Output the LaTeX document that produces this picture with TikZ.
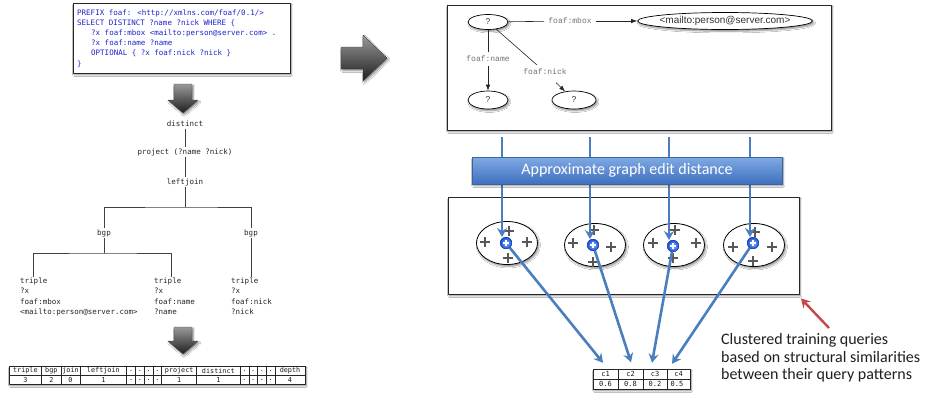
\documentclass[tikz,border=0pt]{standalone}
\usepackage{fontspec}
\setmainfont{Liberation Sans}
\newfontfamily\monof{DejaVu Sans Mono}
\newfontfamily\courf{Liberation Mono}
\newfontfamily\calf{Carlito}
\usetikzlibrary{arrows.meta,calc,shapes.geometric,shadows,shadows.blur}

\definecolor{qblue}{RGB}{28,36,205}
\definecolor{obl}{RGB}{74,126,190}
\definecolor{ored}{RGB}{196,72,70}
\definecolor{pgray}{RGB}{88,88,88}
\definecolor{barTop}{RGB}{128,170,228}
\definecolor{barBot}{RGB}{62,112,192}
\definecolor{dotIn}{RGB}{140,185,255}
\definecolor{dotOut}{RGB}{30,80,215}

\tikzset{
  sh/.style={blur shadow={shadow xshift=1.3pt,shadow yshift=-1.8pt,shadow blur steps=6,shadow blur radius=1.6pt,shadow opacity=45}},
  panel/.style={draw=black!85,line width=0.8pt,fill=white,sh,inner sep=0},
  tt/.style={font=\monof\fontsize{7.5}{9}\selectfont,text=black!85,inner sep=1pt,text height=5.4pt,text depth=1.4pt},
  qline/.style={font=\monof\fontsize{7.5}{9}\selectfont,text=qblue,anchor=west,inner sep=0,text height=5.5pt,text depth=1.5pt},
  tline/.style={tt,anchor=west,inner sep=0},
  tree/.style={draw=black!75,line width=0.6pt},
  garrow/.style={top color=black!40,bottom color=black!88,draw=black!75,line width=0.4pt,sh},
  gell/.style={ellipse,draw=black,line width=0.7pt,fill=white,inner sep=0,sh,font=\fontsize{8.5}{9}\selectfont,text=black!80},
  elbl/.style={font=\courf\fontsize{8}{9}\selectfont,text=black!55,inner sep=4pt},
  gline/.style={draw=black!85,line width=0.6pt},
  garr/.style={gline,-{Latex[length=6pt,width=4.5pt]}},
  bl/.style={draw=obl,line width=2.6pt,-{Stealth[length=9pt,width=10pt,inset=3pt]}},
  clus/.style={ellipse,draw=black,line width=0.8pt,fill=white,minimum width=61pt,minimum height=43pt,inner sep=0,sh},
  bdot/.style={circle,minimum size=11.5pt,inner sep=0,draw=dotOut!80!black,line width=0.4pt,inner color=dotIn,outer color=dotOut},
  gplus/.pic={\draw[pgray,line width=2.8pt] (-4.8,0) -- (4.8,0) (0,-4.8) -- (0,4.8);},
  wplus/.pic={\draw[white,line width=1.7pt] (-3.2,0) -- (3.2,0) (0,-3.2) -- (0,3.2);},
  cellt/.style={font=\monof\fontsize{6.8}{8}\selectfont,inner sep=0,text=black!90},
  ctab/.style={font=\monof\fontsize{7}{8}\selectfont,inner sep=0,text=black!90},
  notet/.style={font=\calf\fontsize{16}{17}\selectfont,text=black!88,anchor=base west,inner sep=0},
  gedbar/.style={draw=obl!80!black,line width=0.5pt,top color=barTop,bottom color=barBot,
    minimum width=310pt,minimum height=27pt,inner sep=0,text=white,font=\calf\fontsize{16}{18}\selectfont,sh},
}

\begin{document}
\begin{tikzpicture}[x=1pt,y=-1pt,line join=round]
\useasboundingbox[fill=white] (0,0) rectangle (928,397);

% ---------- SPARQL query ----------
\node[panel,minimum width=217pt,minimum height=70pt] (qbox) at (181.5,38) {};
\node[qline] (q1) at (77,13) {PREFIX foaf: <http://xmlns.com/foaf/0.1/>};
\node[qline] (q2) at (77,23.2) {SELECT DISTINCT ?name ?nick WHERE \{};
\node[qline] (q3) at (91,33.4) {?x foaf:mbox <mailto:person@server.com> .};
\node[qline] (q4) at (91,43.6) {?x foaf:name ?name};
\node[qline] (q5) at (91,53.8) {OPTIONAL \{ ?x foaf:nick ?nick \}};
\node[qline] (q6) at (77,64) {\}};

% down arrow
\path[garrow] (174,84) -- (192,84) -- (192,100) -- (198,100) -- (183,113) -- (168,100) -- (174,100) -- cycle;

% ---------- algebra tree ----------
\node[tt] (dist) at (185,124) {distinct};
\node[tt] (proj) at (185,152) {project (?name ?nick)};
\node[tt] (lj) at (185,182) {leftjoin};
\node[tt] (bgpL) at (104,233) {bgp};
\node[tt] (bgpR) at (251,233) {bgp};
\coordinate (j1) at (185,207);
\coordinate (j2) at (104,253);

\node[tline] (t1a) at (20,281) {triple};
\node[tline] (t1b) at (20,291.5) {?x};
\node[tline] (t1c) at (20,302) {foaf:mbox};
\node[tline] (t1d) at (20,312.5) {<mailto:person@server.com>};
\node[tline] (t2a) at (154,281) {triple};
\node[tline] (t2b) at (154,291.5) {?x};
\node[tline] (t2c) at (154,302) {foaf:name};
\node[tline] (t2d) at (154,312.5) {?name};
\node[tline] (t3a) at (231,281) {triple};
\node[tline] (t3b) at (231,291.5) {?x};
\node[tline] (t3c) at (231,302) {foaf:nick};
\node[tline] (t3d) at (231,312.5) {?nick};

\draw[tree] (dist) -- (proj);
\draw[tree] (proj) -- (lj);
\draw[tree] (lj) -- (j1);
\draw[tree] (bgpL) |- (j1) -| (bgpR);
\draw[tree] (bgpL) -- (j2);
\draw[tree] (t1a.north) |- (j2) -| ($(t2a.north)+(3.5,0)$);
\draw[tree] (bgpR) -- (bgpR |- t3a.north);

% down arrow
\path[garrow] (174,327) -- (192,327) -- (192,341) -- (198,341) -- (183,354) -- (168,341) -- (174,341) -- cycle;

% ---------- feature vector ----------
\draw[fill=white,draw=black!85,line width=0.6pt,sh] (9,366) rectangle (305,384);
\draw[black!85,line width=0.5pt] (9,375) -- (305,375);
\foreach \xa/\xb/\hd/\vl [count=\i] in {
  9/41.7/triple/3, 41.7/61/bgp/2, 61/80/join/0, 80/126.7/leftjoin/1,
  126.7/135.45/./., 135.45/144.2/./., 144.2/152.95/./., 152.95/161.7/./.,
  161.7/196.7/project/1, 196.7/240/distinct/1,
  240/248.75/./., 248.75/257.5/./., 257.5/266.25/./., 266.25/275/./.,
  275/305/depth/4}{
  \draw[black!85,line width=0.5pt] (\xb,366) -- (\xb,384);
  \node[cellt] (fh\i) at ({(\xa+\xb)/2},370.8) {\hd};
  \node[cellt] (fv\i) at ({(\xa+\xb)/2},379.6) {\vl};
}

% big arrow to the right
\path[garrow] (341,47) -- (363,47) -- (363,35) -- (387,58) -- (363,81) -- (363,69) -- (341,69) -- cycle;

% ---------- query graph ----------
\node[panel,minimum width=384pt,minimum height=125pt] (topbox) at (639,67.5) {};
\node[gell,minimum width=40pt,minimum height=15pt] (n0) at (488,22) {?};
\node[gell,minimum width=175pt,minimum height=17pt,inner xsep=-5pt,font=\fontsize{10}{11}\selectfont] (mail) at (725,21) {<mailto:person@server.com>};
\node[elbl] (lm) at (570,21) {foaf:mbox};
\node[elbl] (ln) at (488,59) {foaf:name};
\node[elbl] (lk) at (545,72) {foaf:nick};
\node[gell,minimum width=40pt,minimum height=18pt] (n1) at (488,100) {?};
\node[gell,minimum width=44pt,minimum height=18pt] (n2) at (574,100) {?};
\draw[gline] (n0) -- (lm);
\draw[garr] (lm) -- (mail);
\draw[gline] (n0) -- (ln);
\draw[garr] (ln) -- (n1);
\draw[gline] (n0) -- (lk);
\draw[garr,shorten <=5pt] (lk) -- (n2);

% ---------- clusters ----------
\node[panel,minimum width=351pt,minimum height=97pt] (low) at (623.5,245.5) {};
\node[clus] (e1) at (507,243) {};
\node[clus] (e2) at (595,245) {};
\node[clus] (e3) at (674,245) {};
\node[clus] (e4) at (754,245) {};
\foreach \p in {(485,242),(527,242),(509,231),(508,258),
                (573,243),(611,247),(594,230),(593,262),
                (653,243),(696,243),(675,230),(673,258),
                (733,247),(772,247),(755,232),(753,261)}
  \pic at \p {gplus};

\node[bdot] (d1) at (506,243) {};
\node[bdot] (d2) at (593,245) {};
\node[bdot] (d3) at (673,246) {};
\node[bdot] (d4) at (753,243) {};

\coordinate (s1) at (502,137);
\coordinate (s2) at (590,137);
\coordinate (s3) at (669,137);
\coordinate (s4) at (750,137);
\draw[bl] (s1) -- (s1 |- d1.north);
\draw[bl] (s2) -- (s2 |- d2.north);
\draw[bl] (s3) -- (s3 |- d3.north);
\draw[bl] (s4) -- (s4 |- d4.north);

\node[gedbar] (ged) at (627,170.5) {Approximate graph edit distance};

% ---------- cluster scores ----------
\draw[fill=white,draw=black!85,line width=0.6pt,sh] (593,369) rectangle (690,389);
\draw[black!85,line width=0.5pt] (593,379) -- (690,379) (618,369) -- (618,389) (643,369) -- (643,389) (667,369) -- (667,389);
\node[ctab,minimum width=25pt,minimum height=10pt] (c1) at (605.5,374) {c1};
\node[ctab,minimum width=25pt,minimum height=10pt] (c2) at (630.5,374) {c2};
\node[ctab,minimum width=24pt,minimum height=10pt] (c3) at (655,374) {c3};
\node[ctab,minimum width=23pt,minimum height=10pt] (c4) at (678.5,374) {c4};
\node[ctab] (v1) at (605.5,384) {0.6};
\node[ctab] (v2) at (630.5,384) {0.8};
\node[ctab] (v3) at (655,384) {0.2};
\node[ctab] (v4) at (677,384) {0.5};

\draw[bl] (d1.center) -- ($(c1.north)+(-2.5,-6)$);
\draw[bl] (d2.center) -- ($(c2.north)+(0.5,-6.5)$);
\draw[bl] (d3.center) -- ($(c3.north)+(-3,-6)$);
\draw[bl] (d4.center) -- ($(c4.north)+(-6.5,-5)$);

\foreach \d in {d1,d2,d3,d4}{
  \node[bdot] at (\d) {};
  \pic at (\d) {wplus};
}

% ---------- annotation ----------
\coordinate (rt) at (829,328);
\draw[draw=ored,line width=2.4pt,-{Stealth[length=9pt,width=10pt,inset=3pt]}] (rt) -- ($(low.south east)+(1.5,4)$);
\node[notet] (nt1) at (721,344.5) {Clustered training queries};
\node[notet] (nt2) at (721,362) {based on structural similarities};
\node[notet] (nt3) at (721,379.5) {between their query patterns};
\end{tikzpicture}
\end{document}
